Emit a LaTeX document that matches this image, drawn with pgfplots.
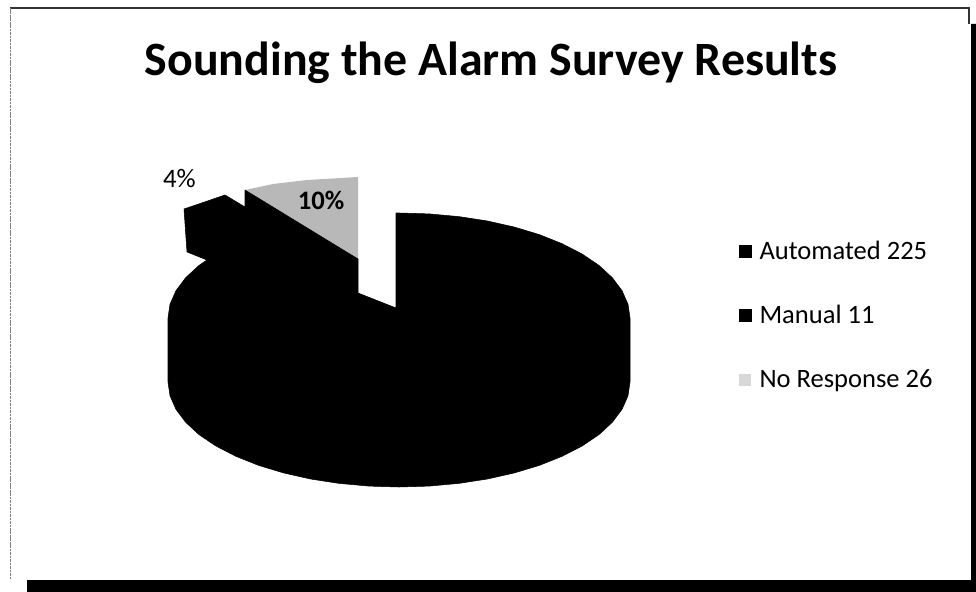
\documentclass[border=0pt]{standalone}
\usepackage{fontspec}
\setmainfont{Carlito}
\usepackage{pgfplots}
\pgfplotsset{compat=1.18}
\definecolor{nr}{gray}{0.72}
\begin{document}
\begin{tikzpicture}
\begin{axis}[
  scale only axis, width=732pt, height=444pt,
  xmin=0, xmax=976, ymin=0, ymax=592, y dir=reverse,
  axis lines=none, clip=true,
  legend cell align=left,
  legend style={at={(axis cs:739,251)}, anchor=north west, yshift=9.5pt, draw=none, fill=none,
    font=\fontsize{19.9pt}{22pt}\selectfont, row sep=29pt, inner sep=0pt, outer sep=0pt,
    /tikz/every odd column/.append style={column sep=4pt}},
  legend image code/.code={\path[#1] (0pt,-4.5pt) rectangle (9pt,4.5pt);},
]
% Automated
\addplot[draw=black, fill=black] coordinates {
(396,213)(399,213)(429.1,213.9)(458.8,216.6)(487.4,221)(514.5,227.1)(539.6,234.7)(562.3,243.8)(582.3,254.1)(599.1,265.5)(612.4,277.8)(622.1,290.8)(628,304.3)(630,318)
(630,382)(628,395.7)(622.1,409.2)(612.4,422.2)(599.1,434.5)(582.3,445.9)(562.3,456.2)(539.6,465.3)(514.5,472.9)(487.4,479)(458.8,483.4)(429.1,486.1)(399,487)
(368.9,486.1)(339.2,483.4)(310.6,479)(283.5,472.9)(258.4,465.3)(235.7,456.2)(215.7,445.9)(198.9,434.5)(185.6,422.2)(175.9,409.2)(170,395.7)(168,382)
(168,318)(170,304.3)(175.9,290.8)(185.6,277.8)(198.9,265.5)(207,260)(245,240)(358,293)(396,308)(396,213)};
\addlegendentry{Automated 225}
% Manual
\addplot[draw=black, fill=black] coordinates {
(207,260)(187,252)(184,209)(225,195)(245,207)(245,245)(215,262)(207,260)};
\addlegendentry{Manual 11}
% No Response
\addplot[draw=none, fill=nr, legend image code/.code={\path[fill=nr!55] (0pt,-4.5pt) rectangle (9pt,4.5pt);}] coordinates {
(245,190)(273,184)(307,180)(358,177)(358,259)(245,190)};
\addlegendentry{No Response 26}
\addplot[forget plot, draw=black, fill=black] coordinates {
(245,190)(358,259)(358,293)(245,245)(245,190)};
% frame
\addplot[forget plot, draw=black!80, line width=1.1pt] coordinates {(10,8)(969,8)(969,24)};
\addplot[forget plot, draw=black!50, line width=0.6pt, dash pattern=on 2pt off 0.6pt] coordinates {(10,8)(10,580)};
\addplot[forget plot, draw=none, fill=black] coordinates {(27,580)(976,580)(976,592)(27,592)(27,580)};
\addplot[forget plot, draw=none, fill=black] coordinates {(971,24)(976,24)(976,580)(971,580)(971,24)};
\node[font=\fontsize{35.9pt}{40pt}\selectfont\bfseries, anchor=center] at (axis cs:491,63) {Sounding the Alarm Survey Results};
\node[font=\fontsize{20pt}{22pt}\selectfont\bfseries] at (axis cs:321,200) {10\%};
\node[font=\fontsize{20pt}{22pt}\selectfont] at (axis cs:179.5,179) {4\%};
\end{axis}
\useasboundingbox (current axis.south west) rectangle (current axis.north east);
\end{tikzpicture}
\end{document}
